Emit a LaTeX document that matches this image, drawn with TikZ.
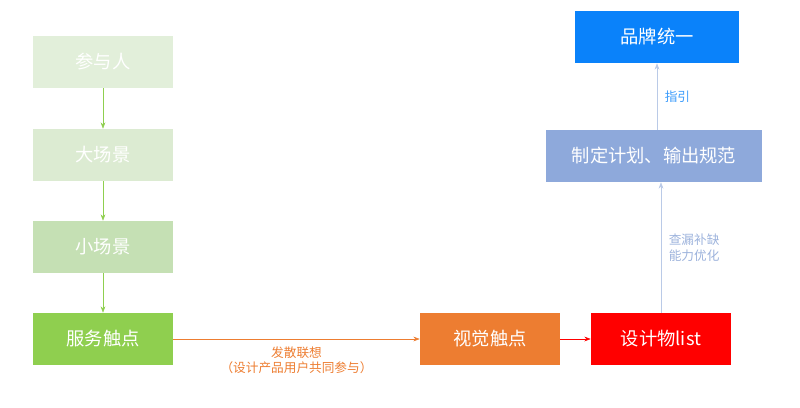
\documentclass[tikz,border=0pt]{standalone}
\usepackage{fontspec}
\setmainfont{Noto Sans CJK SC}
\usetikzlibrary{arrows.meta}
\definecolor{gA}{HTML}{E2EFDA}
\definecolor{gB}{HTML}{DCEBD2}
\definecolor{gC}{HTML}{C5E0B4}
\definecolor{gD}{HTML}{8FCF4F}
\definecolor{orangeBox}{HTML}{ED7D31}
\definecolor{redBox}{HTML}{FF0000}
\definecolor{planBox}{HTML}{8EA9DB}
\definecolor{brandBox}{HTML}{0A82FA}
\definecolor{noteBlue}{HTML}{9DB3DC}
\tikzstyle{box} = [rectangle, minimum width=3.5cm, minimum height=1.3cm, text centered, text=white, font=\fontsize{13}{15}\selectfont]
\tikzstyle{note} = [font=\fontsize{9}{11}\selectfont, align=center]
\tikzstyle{arrow} = [->, >={Stealth[length=1.6mm,width=1.2mm]}]
\begin{document}
\begin{tikzpicture}[x=0.025cm,y=-0.025cm]
	\useasboundingbox (0,0) rectangle (800,407);

	\node (people) [box,fill=gA] at (103,62) {参与人};
	\node (bigscene) [box,fill=gB] at (103,155) {大场景};
	\node (smallscene) [box,fill=gC] at (103,247) {小场景};
	\node (service) [box,fill=gD] at (103,339) {服务触点};
	\node (visual) [box,fill=orangeBox] at (490,339) {视觉触点};
	\node (list) [box,fill=redBox] at (661,339) {设计物list};
	\node (plan) [box,fill=planBox,minimum width=5.4cm] at (654,156) {制定计划、输出规范};
	\node (brand) [box,fill=brandBox,minimum width=4.1cm] at (657,37) {品牌统一};

	\draw [arrow,gD] (people) -- (bigscene);
	\draw [arrow,gD] (bigscene) -- (smallscene);
	\draw [arrow,gD] (smallscene) -- (service);
	\draw [arrow,orangeBox] (service) -- node[note,below=2pt,text=orangeBox] (diverge) {发散联想\\（设计产品用户共同参与）} (visual);
	\draw [arrow,redBox] (visual) -- (list);
	\draw [arrow,noteBlue!70] (list) -- node[note,right=2pt,text=noteBlue] (fill) {查漏补缺\\能力优化} (plan.south -| list);
	\draw [arrow,noteBlue!70] (plan.north -| brand) -- node[note,right=2pt,text=brandBox!80] (guide) {指引} (brand);

\end{tikzpicture}
\end{document}
